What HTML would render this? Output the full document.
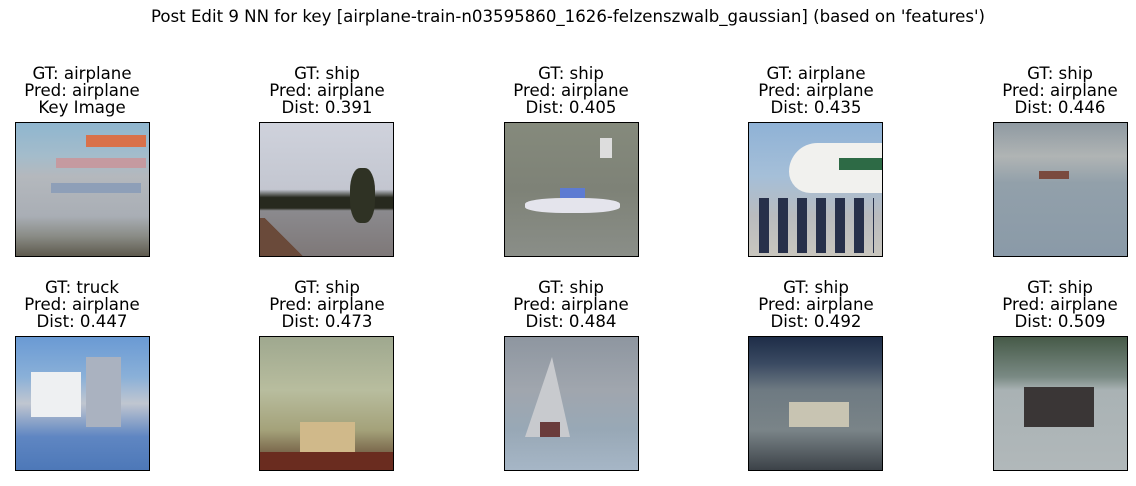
<!DOCTYPE html>
<html><head><meta charset="utf-8"><style>
body{margin:0;width:1136px;height:486px;background:#fff;position:relative;overflow:hidden;font-family:"DejaVu Sans","Liberation Sans",sans-serif;color:#000}
.t{position:absolute;width:240px;text-align:center;font-size:16.6px;line-height:17px}
.im{position:absolute;width:133px;height:133px;border:1px solid #000;overflow:hidden}
.im div{position:absolute}
</style></head><body>
<div style="position:absolute;left:0;width:1136px;top:7px;text-align:center;font-size:16.6px;line-height:20px">Post Edit 9 NN for key [airplane-train-n03595860_1626-felzenszwalb_gaussian] (based on 'features')</div>

<div class="t" style="left:-38px;top:65px">GT: airplane<br>Pred: airplane<br>Key Image</div>
<div class="t" style="left:207px;top:65px">GT: ship<br>Pred: airplane<br>Dist: 0.391</div>
<div class="t" style="left:451px;top:65px">GT: ship<br>Pred: airplane<br>Dist: 0.405</div>
<div class="t" style="left:696px;top:65px">GT: airplane<br>Pred: airplane<br>Dist: 0.435</div>
<div class="t" style="left:940px;top:65px">GT: ship<br>Pred: airplane<br>Dist: 0.446</div>
<div class="t" style="left:-38px;top:279px">GT: truck<br>Pred: airplane<br>Dist: 0.447</div>
<div class="t" style="left:207px;top:279px">GT: ship<br>Pred: airplane<br>Dist: 0.473</div>
<div class="t" style="left:451px;top:279px">GT: ship<br>Pred: airplane<br>Dist: 0.484</div>
<div class="t" style="left:696px;top:279px">GT: ship<br>Pred: airplane<br>Dist: 0.492</div>
<div class="t" style="left:940px;top:279px">GT: ship<br>Pred: airplane<br>Dist: 0.509</div>

<!-- row 1 -->
<div class="im" style="left:15px;top:122px;background:linear-gradient(#8fb6cf 0%,#a4bccb 25%,#b4b8bd 40%,#a9aeb5 70%,#8a8c86 85%,#5e5a4e 100%)">
<div style="left:70px;top:12px;width:60px;height:12px;background:#d9714a"></div>
<div style="left:40px;top:35px;width:90px;height:10px;background:#c59aa0"></div>
<div style="left:35px;top:60px;width:90px;height:10px;background:#8e9fb8"></div>
</div>
<div class="im" style="left:259px;top:122px;background:linear-gradient(#cfd2dc 0%,#c3c6d0 50%,#27291e 56%,#27291e 64%,#8b8a8e 66%,#7e7878 100%)">
<div style="left:90px;top:45px;width:25px;height:55px;background:#2f3224;border-radius:40%"></div>
<div style="left:0;top:95px;width:50px;height:40px;background:linear-gradient(45deg,#6a4a3a 50%,transparent 50%)"></div>
</div>
<div class="im" style="left:504px;top:122px;background:linear-gradient(#858a7c 0%,#7e8277 50%,#8a8e88 100%)">
<div style="left:20px;top:75px;width:95px;height:15px;background:#e4e4ec;border-radius:40%"></div>
<div style="left:55px;top:65px;width:25px;height:10px;background:#5d7bd2"></div>
<div style="left:95px;top:15px;width:12px;height:20px;background:#ddd"></div>
</div>
<div class="im" style="left:748px;top:122px;background:linear-gradient(#8fb2d6 0%,#a5bfd8 40%,#b9bbbe 70%,#c9c6be 100%)">
<div style="left:40px;top:20px;width:100px;height:50px;background:#f1f1ee;border-radius:40px 0 0 30px"></div>
<div style="left:90px;top:35px;width:50px;height:12px;background:#2d6a45"></div>
<div style="left:10px;top:75px;width:115px;height:55px;background:repeating-linear-gradient(90deg,#27304a 0 10px,transparent 10px 19px)"></div>
</div>
<div class="im" style="left:993px;top:122px;background:linear-gradient(#8f9aa2 0%,#b0b4b4 25%,#92a0aa 45%,#8a9aa8 100%)">
<div style="left:45px;top:48px;width:30px;height:8px;background:#7a4a3e"></div>
</div>

<!-- row 2 -->
<div class="im" style="left:15px;top:336px;background:linear-gradient(#6a9ad4 0%,#8ab0d8 30%,#c0c6d0 50%,#5f86c2 75%,#4d78b8 100%)">
<div style="left:15px;top:35px;width:50px;height:45px;background:#eef0f2"></div>
<div style="left:70px;top:20px;width:35px;height:70px;background:#aab2c0"></div>
</div>
<div class="im" style="left:259px;top:336px;background:linear-gradient(#9fa88f 0%,#b8bd9e 40%,#a4a27a 70%,#5a3a28 100%)">
<div style="left:40px;top:85px;width:55px;height:30px;background:#d0b98a"></div>
<div style="left:0;top:115px;width:133px;height:18px;background:#6a2c1f"></div>
</div>
<div class="im" style="left:504px;top:336px;background:linear-gradient(#8e96a0 0%,#a0a6ae 40%,#98a8b6 70%,#a6b6c6 100%)">
<div style="left:20px;top:20px;width:45px;height:80px;background:#c8cace;clip-path:polygon(60% 0,100% 100%,0 100%)"></div>
<div style="left:35px;top:85px;width:20px;height:15px;background:#6a3c3c"></div>
</div>
<div class="im" style="left:748px;top:336px;background:linear-gradient(#1e2d48 0%,#3a4a62 20%,#6e7a82 40%,#7a8488 70%,#3c4248 100%)">
<div style="left:40px;top:65px;width:60px;height:25px;background:#c8c4b2"></div>
</div>
<div class="im" style="left:993px;top:336px;background:linear-gradient(#465a48 0%,#7a8a84 30%,#a9b2b4 40%,#b1b8ba 100%)">
<div style="left:30px;top:50px;width:70px;height:40px;background:#3a3636"></div>
</div>
</body></html>
